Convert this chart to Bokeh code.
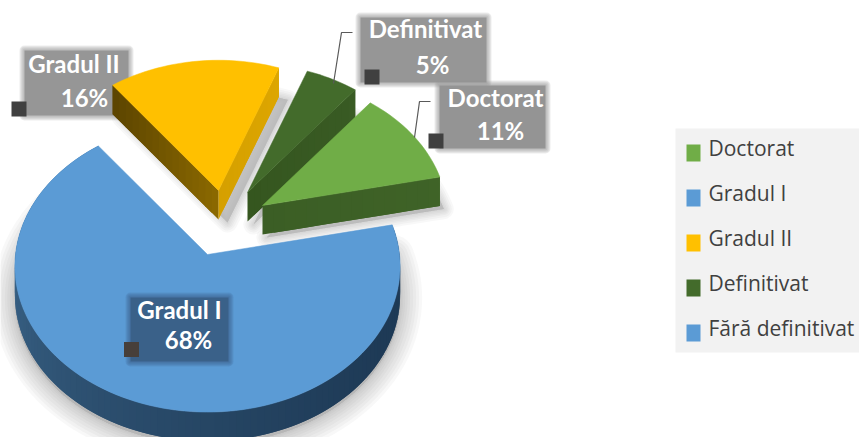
import math
from bokeh.embed import file_html
from bokeh.resources import INLINE
from bokeh.plotting import figure
from bokeh.models import Range1d
from bokeh.core.properties import value

# ---------- data ----------
categories = ["Doctorat", "Gradul I", "Gradul II", "Definitivat", "Fără definitivat"]
percent = [11, 68, 16, 5, 0]
colors = ["#70AD47", "#5B9BD5", "#FFC000", "#436B2B", "#5B9BD5"]

# ---------- layout / style ----------
W, H = 859, 437
START = 38.4
RX, RY, K = 192.0, 145.0, 0.08
DEPTH = 29
FONT = "Lato"
apex = {"Doctorat": (262, 205), "Gradul I": (207, 254), "Gradul II": (218, 190),
        "Definitivat": (247, 192), "Fără definitivat": (207, 254)}
scale = {"Doctorat": 0.96, "Gradul I": 1.0, "Gradul II": 0.97, "Definitivat": 0.96, "Fără definitivat": 1.0}
shadow_off = {"Doctorat": (4, 3), "Gradul I": (0, 3), "Gradul II": (9, 3), "Definitivat": (6, 3), "Fără definitivat": (0, 0)}
# colours of the radial walls: (start wall, end wall), each (near the apex, at the rim)
walls = {"Doctorat": (None, ("#3B5E25", "#3F6327")),
         "Gradul II": (("#8A6800", "#5A4300"), ("#D5A000", "#DDA600")),
         "Definitivat": (None, ("#35561F", "#395B24")),
         "Gradul I": (None, None),
         "Fără definitivat": (None, None)}
draw_order = ["Gradul I", "Gradul II", "Definitivat", "Doctorat"]


def hex2rgb(h):
    return tuple(int(h[i:i + 2], 16) for i in (1, 3, 5))


def mix(a, b, t):
    ra, rb = hex2rgb(a), hex2rgb(b)
    return "#%02x%02x%02x" % tuple(round(x + (y - x) * t) for x, y in zip(ra, rb))


def rim(name, phi):
    """Perspective projection of a point on the pie's rim; phi is clockwise from 12 o'clock."""
    c, s = math.sin(math.radians(phi)), -math.cos(math.radians(phi))
    w = 1 - K * s
    f = scale[name]
    ax, ay = apex[name]
    return ax + f * RX * c / w, ay + f * RY * s / w


spans = {}
acc = START
for n, v in zip(categories, percent):
    spans[n] = (acc, acc + v * 3.6)
    acc += v * 3.6


def face(name, dx=0.0, dy=0.0):
    a, b = spans[name]
    steps = max(1, int((b - a) / 2))
    pts = [apex[name]] + [rim(name, a + (b - a) * i / steps) for i in range(steps + 1)]
    return [p[0] + dx for p in pts], [p[1] + dy for p in pts]


p = figure(width=W, height=H, output_backend="svg", toolbar_location=None,
           x_range=Range1d(0, W), y_range=Range1d(H, 0),
           min_border=0, outline_line_color=None, background_fill_color="white",
           border_fill_color="white")
p.axis.visible = False
p.grid.visible = False


def soft_box(x0, y0, x1, y1, color):
    xs, ys = [x0, x1, x1, x0], [y0, y0, y1, y1]
    for w in (10, 8, 6, 4, 2):
        p.patch(xs, ys, fill_alpha=0, line_color=color, line_alpha=0.17, line_width=w, line_join="round")
    p.patch(xs, ys, fill_color=color, line_alpha=0)


# pie shadows
for name in draw_order:
    ox, oy = shadow_off[name]
    sx, sy = face(name, ox, DEPTH + oy)
    widths = (44, 38, 32, 26, 20, 15, 10, 6, 3) if name == "Gradul I" else (20, 16, 12, 9, 6, 3)
    for w in widths:
        p.patch(sx, sy, fill_color="#707070", fill_alpha=0.03, line_color="#707070", line_alpha=0.05,
                line_width=w, line_join="round")
    p.patch(sx, sy, fill_color="#b8b8b8", fill_alpha=0.75, line_alpha=0)

# label boxes behind the slices
soft_box(24, 50, 128, 115, "#969696")
soft_box(360, 17, 486, 82, "#969696")
soft_box(439, 85, 545, 148, "#949494")

for name in draw_order:
    col = colors[categories.index(name)]
    a, b = spans[name]
    ax, ay = apex[name]
    # outer wall: each strip runs on under the next one, so that no seams show
    if name == "Gradul I":
        qx, qy, qc = [], [], []
        phi = a
        while phi < b:
            e = min(phi + 4, b)
            x0, y0 = rim(name, phi)
            x1, y1 = rim(name, e)
            qx.append([x0, x1, x1, x0])
            qy.append([y0, y1, y1 + DEPTH, y0 + DEPTH])
            t = (phi - a) / (b - a)
            qc.append(mix("#1E3A56", "#47779F", max(0.0, (t - 0.15) / 0.85) ** 1.4))
            phi += 2
        p.patches(qx, qy, fill_color=qc, line_alpha=0)
    # radial walls as overlapping strips
    for wall, phi in zip(walls[name], (a, b)):
        if wall is None:
            continue
        rx, ry = rim(name, phi)
        n = 16
        qx, qy, qc = [], [], []
        for i in range(n):
            t0, t1 = i / n, min(1, (i + 2) / n)
            x0, y0 = ax + (rx - ax) * t0, ay + (ry - ay) * t0
            x1, y1 = ax + (rx - ax) * t1, ay + (ry - ay) * t1
            qx.append([x0, x1, x1, x0])
            qy.append([y0, y1, y1 + DEPTH, y0 + DEPTH])
            qc.append(mix(wall[0], wall[1], t0))
        p.patches(qx, qy, fill_color=qc, line_alpha=0)
    fx, fy = face(name)
    p.patch(fx, fy, fill_color=col, line_color=col, line_width=0.5)

# the box that lies on the big slice
soft_box(130, 297, 228, 361, "#3A6189")

# leader lines
p.line([333, 341, 352], [83, 32, 32], line_color="#595959", line_width=1.2)
p.line([414, 419, 430], [137, 101, 101], line_color="#595959", line_width=1.2)

# small handles
p.scatter([18.5, 371.5, 435.5, 131], [108.5, 76.5, 140.5, 349], marker="square", size=15,
          fill_color=["#404040", "#404040", "#404040", "#473F3A"], line_alpha=0)

# data labels
label_x = {"Doctorat": (495, 500), "Gradul I": (179, 188), "Gradul II": (73.5, 84), "Definitivat": (425, 432)}
label_y = {"Doctorat": (97, 130), "Gradul I": (309, 339), "Gradul II": (63, 97), "Definitivat": (28, 64)}
tx, ty, tt = [], [], []
for n, v in zip(categories, percent):
    if v > 0:
        tx += list(label_x[n])
        ty += list(label_y[n])
        tt += [n, f"{v}%"]
p.text(tx, ty, text=tt, text_color="white", text_font=value(FONT), text_font_style="bold",
       text_font_size="24px", text_align="center", text_baseline="middle")

# legend panel with its swatches and labels; the swatches sit a little lower than the texts
p.quad(left=[675], right=[W], top=[128], bottom=[352], fill_color="#F2F2F2", line_alpha=0)
rows = [147 + 45 * i for i in range(len(categories))]
p.quad(left=[686] * len(rows), right=[700] * len(rows), top=[r - 3 for r in rows], bottom=[r + 14 for r in rows],
       fill_color=colors, line_alpha=0)
p.text([708] * len(rows), rows, text=categories, text_color="#404040", text_font=value("Open Sans"),
       text_font_size="21px", text_align="left", text_baseline="middle")

open("out.html", "w").write(file_html(p, INLINE))
